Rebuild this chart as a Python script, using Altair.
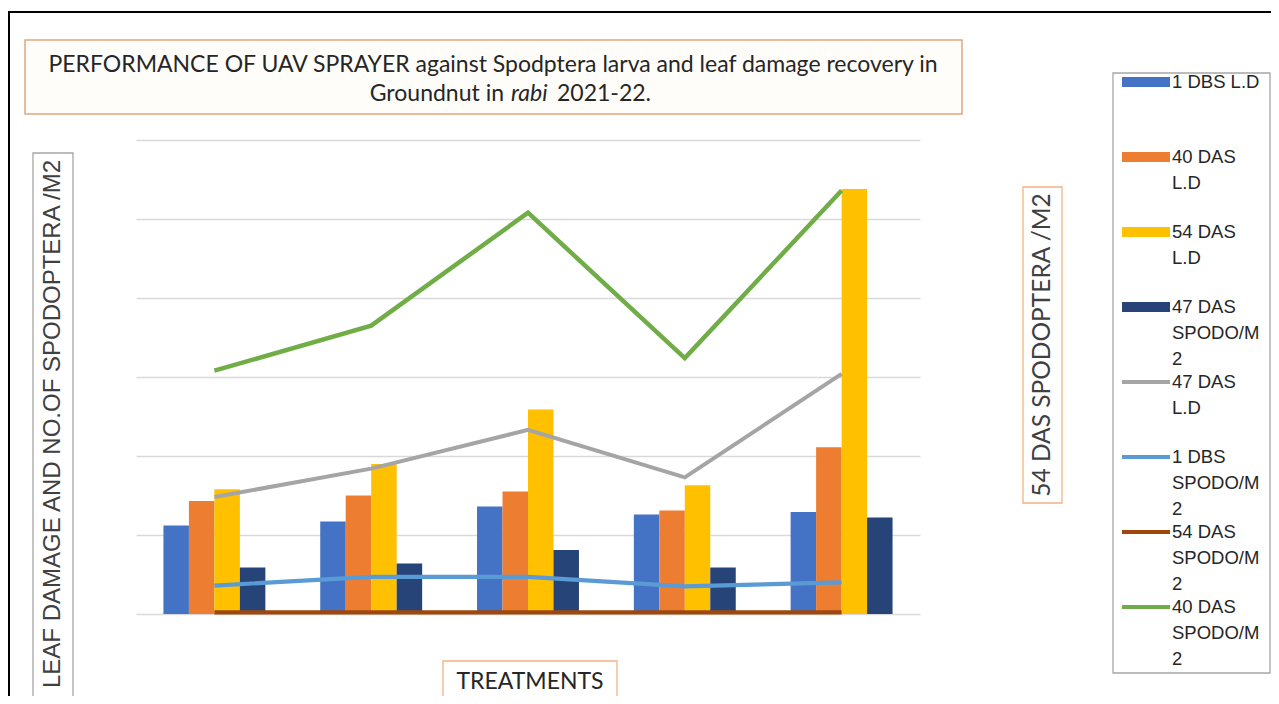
import altair as alt
import pandas as pd

# ---------------- data ----------------
treatments = ["T1", "T2", "T3", "T4", "T5"]

bar_names = ["1 DBS L.D", "40 DAS L.D", "54 DAS L.D", "47 DAS SPODO/M2"]
ld_1dbs = [11.2, 11.7, 13.6, 12.6, 12.9]
ld_40das = [14.3, 15.0, 15.5, 13.1, 21.1]
ld_54das = [15.8, 19.0, 25.9, 16.3, 53.8]
spodo_47das = [5.9, 6.4, 8.1, 5.9, 12.2]
bar_values = [ld_1dbs, ld_40das, ld_54das, spodo_47das]

line_names = ["47 DAS L.D", "1 DBS SPODO/M2", "54 DAS SPODO/M2", "40 DAS SPODO/M2"]
ld_47das = [14.8, 18.4, 23.3, 17.3, 30.4]
spodo_1dbs = [3.6, 4.7, 4.7, 3.5, 4.0]
spodo_54das = [0.2, 0.2, 0.2, 0.2, 0.2]
spodo_40das = [30.8, 36.5, 50.8, 32.4, 53.6]
line_values = [ld_47das, spodo_1dbs, spodo_54das, spodo_40das]

all_names = bar_names + line_names
colors = ["#4472C4", "#ED7D31", "#FFC000", "#264478",
          "#A5A5A5", "#5B9BD5", "#9E480E", "#70AD47"]
legend_labels = ["1 DBS L.D", "40 DAS|L.D", "54 DAS|L.D", "47 DAS|SPODO/M|2",
                 "47 DAS|L.D", "1 DBS|SPODO/M|2", "54 DAS|SPODO/M|2", "40 DAS|SPODO/M|2"]
legend_kinds = ["bar"] * 4 + ["line"] * 4

title_line1 = "PERFORMANCE  OF UAV SPRAYER against Spodptera  larva and leaf damage recovery  in"
title_line2a = "Groundnut  in"
title_line2b = "rabi"
title_line2c = "2021-22."
y_title = "LEAF DAMAGE AND NO.OF SPODOPTERA /M2"
y2_title = "54 DAS SPODOPTERA /M2"
x_title = "TREATMENTS"

# ---------------- tables ----------------
bars_df = pd.DataFrame([
    {"treatment": t, "series": n, "value": v}
    for n, vals in zip(bar_names, bar_values)
    for t, v in zip(treatments, vals)
])
lines_df = pd.DataFrame([
    {"treatment": t, "series": n, "value": v}
    for n, vals in zip(line_names, line_values)
    for t, v in zip(treatments, vals)
])
legend_df = pd.DataFrame({"series": all_names, "label": legend_labels, "kind": legend_kinds})

color_scale = alt.Scale(domain=all_names, range=colors)
x_enc = alt.X("treatment:N", scale=alt.Scale(domain=treatments, paddingInner=0.35,
                                              paddingOuter=0.175), axis=None)
y_enc = alt.Y("value:Q", scale=alt.Scale(domain=[0, 60], nice=False),
              axis=alt.Axis(values=[0, 10, 20, 30, 40, 50, 60], grid=True, labels=False,
                            ticks=False, domain=False, title=None,
                            gridColor="#d9d9d9", gridWidth=1.3))

bars = alt.Chart(bars_df).mark_bar().encode(
    x=x_enc,
    xOffset=alt.XOffset("series:N", scale=alt.Scale(domain=bar_names, paddingInner=0,
                                                     paddingOuter=0)),
    y=y_enc,
    color=alt.Color("series:N", scale=color_scale, legend=None),
)

lines = alt.Chart(lines_df).mark_line().encode(
    x=x_enc,
    y=alt.Y("value:Q"),
    color=alt.Color("series:N", scale=color_scale, legend=None),
    strokeWidth=alt.StrokeWidth("series:N", scale=alt.Scale(domain=line_names,
                                range=[4, 4.5, 4, 3.2]), legend=None),
)

main = alt.layer(bars, lines)

# ---------------- legend ----------------
leg_y = alt.Y("series:N", sort=all_names,
              scale=alt.Scale(type="point", domain=all_names, range=[-58, 467], padding=0),
              axis=None)
leg_sym = alt.Chart(legend_df).mark_rule().encode(
    x=alt.value(986), x2=alt.value(1034), y=leg_y,
    color=alt.Color("series:N", scale=color_scale, legend=None),
    strokeWidth=alt.StrokeWidth("kind:N", scale=alt.Scale(domain=["bar", "line"],
                                range=[10, 4]), legend=None),
)
leg_txt = alt.Chart(legend_df).mark_text(
    align="left", baseline="top", lineBreak="|", lineHeight=26,
    font="Liberation Sans", fontSize=18.5, color="#262626", dy=-9,
).encode(x=alt.value(1036), y=leg_y, text="label:N")
legend_layer = alt.layer(leg_sym, leg_txt)

# ---------------- decorations ----------------
one = pd.DataFrame({"k": [0]})

def box(x1, x2, y1, y2, stroke, fill="white", sw=1.3):
    return alt.Chart(one).mark_rect(fill=fill, stroke=stroke, strokeWidth=sw).encode(
        x=alt.value(x1), x2=alt.value(x2), y=alt.value(y1), y2=alt.value(y2))

def label(text, x, y, **kw):
    return alt.Chart(pd.DataFrame({"t": [text]})).mark_text(**kw).encode(
        x=alt.value(x), y=alt.value(y), text="t:N")

frame_top = alt.Chart(one).mark_rule(color="black", strokeWidth=2).encode(
    x=alt.value(-128), x2=alt.value(1140), y=alt.value(-128))
frame_left = alt.Chart(one).mark_rule(color="black", strokeWidth=2).encode(
    x=alt.value(-127), y=alt.value(-128), y2=alt.value(600))

TF = 23
title_box = box(-111, 826, -100, -26, "#e2a77a", fill="#fffdf9", sw=1.5)
t1 = label(title_line1, 357, -68, font="Lato", fontSize=TF, color="#262626",
           align="center", baseline="alphabetic")
t2a = label(title_line2a, 368, -39, font="Lato", fontSize=TF, color="#262626",
            align="right", baseline="alphabetic")
t2b = label(title_line2b, 375, -39, font="Lato", fontSize=TF, color="#262626",
            align="left", baseline="alphabetic", fontStyle="italic")
t2c = label(title_line2c, 421, -39, font="Lato", fontSize=TF, color="#262626",
            align="left", baseline="alphabetic")

ybox = box(-103, -63, 13, 600, "#a6a6a6")
ytxt = label(y_title, -83, 284, font="Liberation Sans", fontSize=24, color="#404040",
             align="center", baseline="middle", angle=270)

xbox = box(307, 481, 521, 600, "#f4b183")
xtxt = label(x_title, 394, 542, font="Lato", fontSize=23, color="#262626",
             align="center", baseline="middle")

y2box = box(887, 926, 47, 363, "#f4b183")
y2txt = label(y2_title, 907, 205, font="Lato", fontSize=24.5, color="#404040",
              align="center", baseline="middle", angle=270)

legbox = box(977, 1134, -67, 533, "#a6a6a6")

chart = alt.layer(
    frame_top, frame_left, title_box, t1, t2a, t2b, t2c,
    ybox, ytxt, xbox, xtxt, y2box, y2txt, legbox,
    main, legend_layer,
).resolve_scale(y="independent", strokeWidth="independent").properties(
    width=784, height=474,
    padding={"left": 128, "top": 132, "right": 351, "bottom": 82},
    autosize="none",
    background="white",
).configure_view(stroke=None)

chart.save("out.html", embed_options={"renderer": "svg", "actions": False})
